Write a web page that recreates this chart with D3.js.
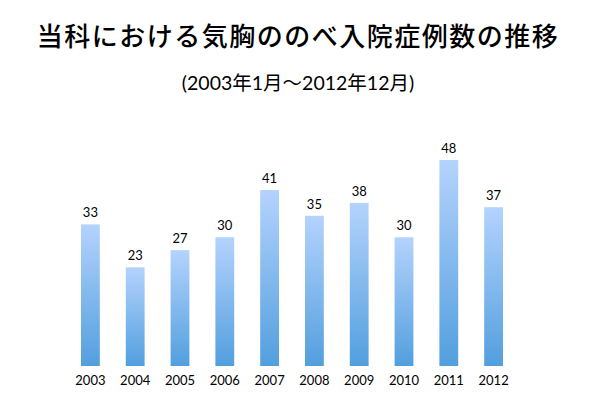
<!DOCTYPE html>
<html>
<head>
<meta charset="utf-8">
<script src="https://cdn.jsdelivr.net/npm/d3@7"></script>
<style>
  body { margin: 0; background: #fff; }
  text { font-family: Lato, "Noto Sans CJK JP", sans-serif; }
</style>
</head>
<body>
<svg id="chart" width="600" height="419"></svg>
<script>
const years = ["2003", "2004", "2005", "2006", "2007", "2008", "2009", "2010", "2011", "2012"]
const counts = [33, 23, 27, 30, 41, 35, 38, 30, 48, 37]
const title = "当科における気胸ののべ入院症例数の推移"
const subtitle = "(2003年1月～2012年12月)"

const svg = d3.select("#chart")

// グラデーション（上が薄い青、下が濃い青）
const grad = svg.append("defs").append("linearGradient")
  .attr("id", "barGrad").attr("x1", 0).attr("y1", 0).attr("x2", 0).attr("y2", 1)
grad.append("stop").attr("offset", "0%").attr("stop-color", "#b4d3fd")
grad.append("stop").attr("offset", "100%").attr("stop-color", "#529fde")

svg.append("text")
  .attr("x", 298).attr("y", 46)
  .attr("text-anchor", "middle")
  .attr("font-size", 26).attr("letter-spacing", 1.5).attr("font-weight", 500)
  .style("font-family", "'Noto Sans CJK JP', sans-serif")
  .attr("fill", "#000")
  .text(title)

svg.append("text")
  .attr("x", 298).attr("y", 90)
  .attr("text-anchor", "middle")
  .attr("font-size", 19.5)
  .attr("fill", "#000")
  .text(subtitle)

const x = d3.scaleBand().domain(years).range([68, 516]).paddingInner(0.58).paddingOuter(0.29)
const y = d3.scaleLinear().domain([0, 48]).range([366, 160])

svg.selectAll(".bar").data(counts).enter().append("rect")
  .attr("class", "bar")
  .attr("x", (d, i) => x(years[i]))
  .attr("y", d => y(d))
  .attr("width", x.bandwidth())
  .attr("height", d => y(0) - y(d))
  .attr("fill", "url(#barGrad)")

svg.selectAll(".val").data(counts).enter().append("text")
  .attr("class", "val")
  .attr("x", (d, i) => x(years[i]) + x.bandwidth() / 2)
  .attr("y", d => y(d) - 7)
  .attr("text-anchor", "middle")
  .attr("font-size", 13)
  .attr("fill", "#000")
  .text(d => d)

const xAxis = d3.axisBottom(x).tickSize(0).tickPadding(10)
svg.append("g")
  .attr("transform", `translate(0,${y(0)})`)
  .call(xAxis)
  .call(g => g.select(".domain").remove())
  .call(g => g.selectAll("text").attr("font-size", 13).attr("fill", "#000")
    .style("font-family", "Lato, sans-serif"))
</script>
</body>
</html>
